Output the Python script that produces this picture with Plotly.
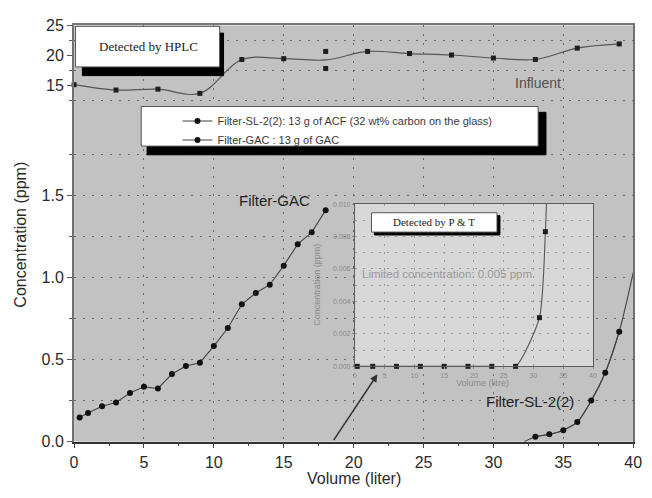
import pandas as pd
import plotly.graph_objects as go

# ---------------- data ----------------
infl_x = [0, 3, 6, 9, 12, 15, 18, 18, 21, 24, 27, 30, 33, 36, 39]
infl_y = [15.1, 14.2, 14.35, 13.65, 19.3, 19.45, 20.65, 17.8, 20.65, 20.3, 20.05, 19.55, 19.3, 21.2, 21.9]

gac_x = [0.4, 1, 2, 3, 4, 5, 6, 7, 8, 9, 10, 11, 12, 13, 14, 15, 16, 17, 18]
gac_y = [0.147, 0.175, 0.216, 0.239, 0.296, 0.334, 0.324, 0.412, 0.461, 0.481,
         0.582, 0.692, 0.837, 0.906, 0.956, 1.072, 1.203, 1.275, 1.41]

sl_x = [33, 34, 35, 36, 37, 38, 39]
sl_y = [0.03, 0.045, 0.07, 0.12, 0.25, 0.42, 0.67]
sl_curve_start = (32.2, 0.0)
sl_curve_end = (40.0, 1.03)

pt_x = [0.4, 3, 7, 11, 15, 19, 23, 27, 31, 32]
pt_y = [0, 0, 0, 0, 0, 0, 0, 0, 0.003, 0.0083]
pt_curve_end = (32.3, 0.0115)

arrow_from = (18.5, 0.0)
arrow_to = (21.7, 0.41)

x_ticks = [0, 5, 10, 15, 20, 25, 30, 35, 40]
upper_ticks = [15, 20, 25]
lower_ticks = [0.0, 0.5, 1.0, 1.5]
inset_y_ticks = [0.000, 0.002, 0.004, 0.006, 0.008, 0.010]

W, H = 652, 498
def fx(p):
    return p / W
def fy(p):
    return 1 - p / H

FONT = "Arial, Liberation Sans, sans-serif"
SERIF = "Times New Roman, Liberation Serif, serif"
GRID = dict(showgrid=True, gridcolor="#6a6a6a", gridwidth=1, griddash="2px,7px")

fig = go.Figure()

# influent (upper panel)
dfi = pd.DataFrame({"x": infl_x, "y": infl_y}).groupby("x", as_index=False).mean()
fig.add_trace(go.Scatter(x=dfi["x"], y=dfi["y"], xaxis="x2", yaxis="y2", mode="lines",
                         line=dict(color="#555555", width=1.2, shape="spline", smoothing=1),
                         showlegend=False, hoverinfo="skip"))
fig.add_trace(go.Scatter(x=infl_x, y=infl_y, xaxis="x2", yaxis="y2", mode="markers",
                         marker=dict(symbol="square", size=5, color="#1e1e1e"),
                         cliponaxis=False, showlegend=False))

# Filter-SL-2(2): fitted curve + measured points
slx = [sl_curve_start[0]] + sl_x + [sl_curve_end[0]]
sly = [sl_curve_start[1]] + sl_y + [sl_curve_end[1]]
fig.add_trace(go.Scatter(x=slx, y=sly, xaxis="x", yaxis="y", mode="lines",
                         line=dict(color="#444444", width=1.1, shape="spline", smoothing=0.8),
                         showlegend=False, hoverinfo="skip"))
fig.add_trace(go.Scatter(x=sl_x, y=sl_y, xaxis="x", yaxis="y", mode="lines+markers",
                         name="Filter-SL-2(2): 13 g of ACF (32 wt% carbon on the glass)",
                         line=dict(color="#444444", width=1.1, shape="spline", smoothing=0.8),
                         marker=dict(symbol="circle", size=6, color="#111111")))

# Filter-GAC
fig.add_trace(go.Scatter(x=gac_x, y=gac_y, xaxis="x", yaxis="y", mode="lines+markers",
                         name="Filter-GAC : 13 g of GAC",
                         line=dict(color="#444444", width=1.1),
                         marker=dict(symbol="circle", size=6, color="#111111")))

# inset (P & T)
ptx = pt_x + [pt_curve_end[0]]
pty = pt_y + [pt_curve_end[1]]
fig.add_trace(go.Scatter(x=ptx, y=pty, xaxis="x3", yaxis="y3", mode="lines",
                         line=dict(color="#555555", width=1.1, shape="spline", smoothing=0.6),
                         showlegend=False, hoverinfo="skip"))
fig.add_trace(go.Scatter(x=pt_x, y=pt_y, xaxis="x3", yaxis="y3", mode="markers",
                         marker=dict(symbol="square", size=5, color="#1e1e1e"),
                         cliponaxis=False, showlegend=False))

axis_font = dict(family=FONT, size=16, color="#2a2a2a")
inset_font = dict(family=FONT, size=7, color="#8a8a8a")

fig.update_layout(
    width=W, height=H,
    margin=dict(l=0, r=0, t=0, b=0),
    paper_bgcolor="white",
    plot_bgcolor="#c2c2c2",
    font=dict(family=FONT, color="#333"),
    xaxis=dict(domain=[fx(71.5), fx(642)], range=[0, 40], anchor="y",
               tickmode="array", tickvals=x_ticks, ticks="outside", ticklen=5, tickcolor="#444",
               minor=dict(dtick=2.5, ticks="outside", ticklen=3, tickcolor="#444"),
               showline=True, linecolor="#333", linewidth=1.5, zeroline=False,
               tickfont=axis_font, **GRID),
    yaxis=dict(domain=[fy(449), fy(118)], range=[0, (449 - 118) / 170], anchor="x",
               tickmode="array", tickvals=lower_ticks, ticktext=[f"{v:.1f}" for v in lower_ticks],
               ticks="outside", ticklen=5, tickcolor="#555",
               minor=dict(dtick=0.25, tick0=0, ticks="outside", ticklen=3, tickcolor="#555",
                          showgrid=True, gridcolor="#6a6a6a", griddash="2px,7px"),
               showline=True, linecolor="#707070", linewidth=2, mirror=True, zeroline=False,
               tickfont=axis_font, **GRID),
    xaxis2=dict(domain=[fx(71.5), fx(642)], range=[0, 40], anchor="y2", matches="x",
                tickmode="array", tickvals=x_ticks, showticklabels=False, side="top",
                showline=True, linecolor="#777", linewidth=1.5, zeroline=False, **GRID),
    yaxis2=dict(domain=[fy(118), fy(18)], range=[25 - 100 / 6.2, 25], anchor="x2",
                tickmode="array", tickvals=upper_ticks, ticks="outside", ticklen=5, tickcolor="#555",
                minor=dict(tick0=12.5, dtick=5, ticks="outside", ticklen=3, tickcolor="#555",
                           showgrid=True, gridcolor="#6a6a6a", griddash="2px,7px"),
                showgrid=False, showline=True, linecolor="#707070", linewidth=2, mirror=True,
                zeroline=False, tickfont=axis_font),
    xaxis3=dict(domain=[fx(358), fx(601)], range=[0, 40], anchor="y3",
                tickmode="array", tickvals=x_ticks, ticks="outside", ticklen=2, tickcolor="#888",
                showline=True, linecolor="#5a5a5a", linewidth=1, mirror=True, zeroline=False,
                tickfont=inset_font, showgrid=True, gridcolor="#9a9a9a", griddash="2px,6px"),
    yaxis3=dict(domain=[fy(371), fy(203)], range=[0, 0.010], anchor="x3",
                tickmode="array", tickvals=inset_y_ticks, ticktext=[f"{v:.3f}" for v in inset_y_ticks],
                ticks="outside", ticklen=2, tickcolor="#888",
                minor=dict(dtick=0.001, showgrid=True, gridcolor="#9a9a9a", griddash="2px,6px"),
                showline=True, linecolor="#5a5a5a", linewidth=1, mirror=True, zeroline=False,
                tickfont=inset_font, showgrid=True, gridcolor="#9a9a9a", griddash="2px,6px"),
    legend=dict(x=fx(177), y=fy(102), xanchor="left", yanchor="top",
                bgcolor="rgba(0,0,0,0)", borderwidth=0, itemsizing="trace",
                font=dict(family=FONT, size=11, color="#3a3a3a"), tracegroupgap=0),
)

def box(x0, y0, x1, y1, fill, line_color=None, layer="above"):
    return dict(type="rect", xref="paper", yref="paper",
                x0=fx(x0), x1=fx(x1), y0=fy(y1), y1=fy(y0),
                fillcolor=fill, layer=layer,
                line=dict(color=line_color or fill, width=1))

shapes = [
    # inset background, covers main grid
    dict(type="rect", xref="x3", yref="y3", x0=0, x1=40, y0=0, y1=0.010,
         fillcolor="#d7d7d7", line=dict(width=0), layer="below"),
    box(80, 26, 224, 70, "#000000"),
    box(73, 19, 220, 61, "#ffffff", "#555555"),
    box(146, 108, 553, 152, "#000000"),
    box(140, 102, 545, 143, "#ffffff", "#555555"),
    box(378, 215, 506, 235, "#000000"),
    box(375, 212, 503, 232, "#ffffff", "#555555"),
]
fig.update_layout(shapes=shapes)

def txt(text, x, y, size, color="#222", family=FONT, angle=0):
    return dict(text=text, xref="paper", yref="paper", x=fx(x), y=fy(y),
                showarrow=False, textangle=angle, xanchor="center", yanchor="middle",
                font=dict(family=family, size=size, color=color))

annotations = [
    txt("Concentration (ppm)", 17, 235, 16, "#2a2a2a", angle=-90),
    txt("Volume (liter)", 357, 487, 16, "#2a2a2a"),
    txt("Concentration (ppm)", 320, 287, 9, "#8a8a8a", angle=-90),
    txt("Volume (litre)", 488, 388, 9, "#8a8a8a"),
    txt("Detected by HPLC", 147, 40, 13, "#222", SERIF),
    txt("Detected by P &amp; T", 439, 222, 11, "#222", SERIF),
    txt("Influent", 545, 78, 14, "#505050"),
    txt("Filter-GAC", 276, 199, 15, "#222"),
    txt("Filter-SL-2(2)", 537, 407, 15, "#222"),
    txt("Limited concentration: 0.005 ppm", 452, 275, 11.5, "#999"),
    dict(x=arrow_to[0], y=arrow_to[1], ax=arrow_from[0], ay=arrow_from[1],
         xref="x", yref="y", axref="x", ayref="y", text="", showarrow=True,
         arrowhead=2, arrowsize=1, arrowwidth=1.5, arrowcolor="#333"),
]
fig.update_layout(annotations=annotations)

fig.write_html("out.html", config={"displayModeBar": False},
               post_script="document.body.style.margin='0px';document.body.style.overflow='hidden';")
